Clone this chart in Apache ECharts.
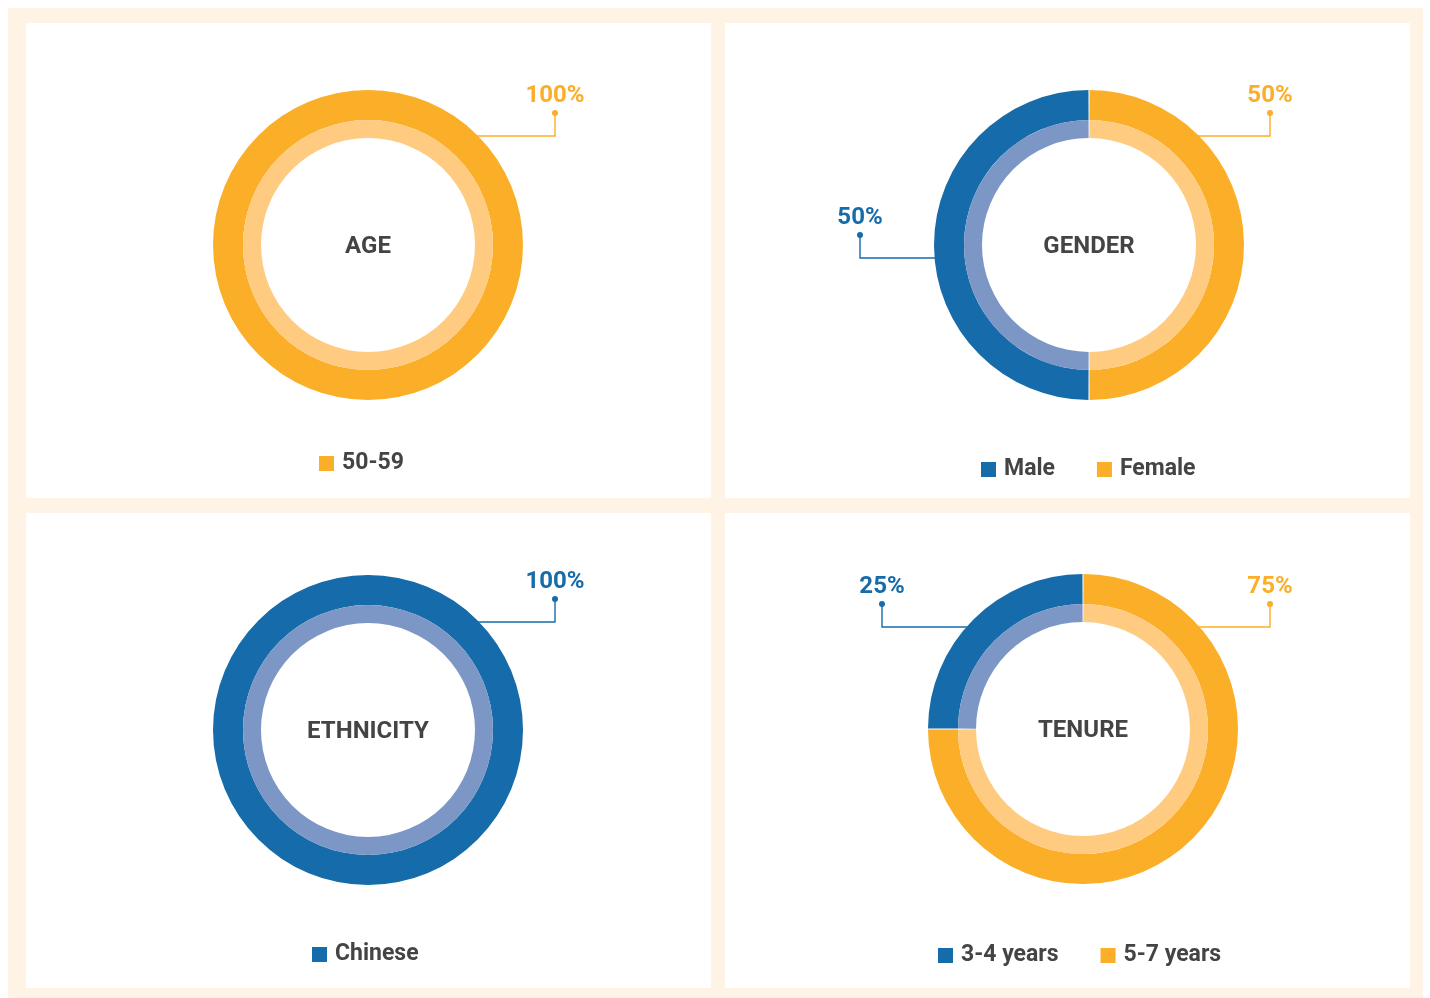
<!DOCTYPE html>
<html>
<head>
<meta charset="utf-8">
<title>Board composition</title>
<script src="https://cdn.jsdelivr.net/npm/echarts@6/dist/echarts.min.js"></script>
<style>
  html, body {
    margin: 0;
    padding: 0;
    background: #ffffff;
  }
  #frame {
    position: absolute;
    left: 8px;
    top: 8px;
    width: 1415px;
    height: 990px;
    background: #fef3e4;
  }
  .panel {
    position: absolute;
    width: 685px;
    height: 475px;
    background: #ffffff;
  }
</style>
</head>
<body>
<div id="frame"></div>
<div class="panel" id="age" style="left:26px;top:23px"></div>
<div class="panel" id="gender" style="left:725px;top:23px"></div>
<div class="panel" id="ethnicity" style="left:26px;top:513px"></div>
<div class="panel" id="tenure" style="left:725px;top:513px"></div>

<script>
  // values (percent)
  var ageCats = ['50-59'];
  var ageVals = [100];
  var genderCats = ['Male', 'Female'];
  var genderVals = [50, 50];
  var ethnicityCats = ['Chinese'];
  var ethnicityVals = [100];
  var tenureCats = ['3-4 years', '5-7 years'];
  var tenureVals = [25, 75];

  var ORANGE = '#fbae27';
  var ORANGE_LIGHT = '#fecb80';
  var BLUE = '#166baa';
  var BLUE_LIGHT = '#7c97c5';
  var TEXT = '#444444';
  var FONT = 'Roboto, "Liberation Sans", sans-serif';

  var R_OUT = 155, R_MID = 125, R_IN = 107;

  var panels = [
    {
      id: 'age', title: 'AGE', cats: ageCats, vals: ageVals,
      colors: [ORANGE], light: [ORANGE_LIGHT],
      center: [342, 222], legendLeft: 293, legendTop: 429,
      leaders: [{rise: -109, reach: 187}]
    },
    {
      id: 'gender', title: 'GENDER', cats: genderCats, vals: genderVals,
      colors: [BLUE, ORANGE], light: [BLUE_LIGHT, ORANGE_LIGHT],
      center: [364, 222], legendLeft: 256, legendTop: 435,
      leaders: [{rise: 13, reach: -229}, {rise: -109, reach: 181}]
    },
    {
      id: 'ethnicity', title: 'ETHNICITY', cats: ethnicityCats, vals: ethnicityVals,
      colors: [BLUE], light: [BLUE_LIGHT],
      center: [342, 217], legendLeft: 286, legendTop: 430,
      leaders: [{rise: -108, reach: 187}]
    },
    {
      id: 'tenure', title: 'TENURE', cats: tenureCats, vals: tenureVals,
      colors: [BLUE, ORANGE], light: [BLUE_LIGHT, ORANGE_LIGHT],
      center: [358, 216], legendLeft: 213, legendTop: 431,
      leaders: [{rise: -102, reach: -201}, {rise: -102, reach: 187}]
    }
  ];

  function drawPanel(p) {
    var myChart = echarts.init(document.getElementById(p.id));
    var cx = p.center[0], cy = p.center[1];
    var multi = p.cats.length > 1;

    var outerData = [], innerData = [], legendData = [];
    for (var i = 0; i < p.cats.length; i++) {
      outerData.push({
        name: p.cats[i], value: p.vals[i],
        itemStyle: {color: p.colors[i]},
        label: {color: p.colors[i], rich: {v: {color: p.colors[i]}, dot: {backgroundColor: p.colors[i]}}},
        labelLine: {lineStyle: {color: p.colors[i]}}
      });
      innerData.push({
        name: p.cats[i], value: p.vals[i],
        itemStyle: {color: p.light[i]}
      });
      legendData.push({name: p.cats[i], itemStyle: {color: p.colors[i]}});
    }

    myChart.setOption({
      animation: false,
      legend: {
        data: legendData,
        left: p.legendLeft,
        top: p.legendTop,
        padding: 0,
        icon: 'rect',
        itemWidth: 15,
        itemHeight: 15,
        itemGap: 42,
        selectedMode: false,
        textStyle: {
          fontFamily: FONT,
          fontWeight: 'bold',
          fontSize: 23,
          color: TEXT,
          padding: [0, 0, 0, 3]
        }
      },
      graphic: [{
        type: 'text',
        x: cx,
        y: cy + 2,
        style: {
          text: p.title,
          align: 'center',
          verticalAlign: 'middle',
          fontFamily: FONT,
          fontWeight: 'bold',
          fontSize: 24,
          fill: TEXT
        }
      }],
      series: [
        {
          type: 'pie',
          center: [cx, cy],
          radius: [R_MID, R_OUT],
          startAngle: 90,
          clockwise: false,
          padAngle: multi ? 0.4 : 0,
          silent: true,
          label: {
            show: true,
            position: 'outside',
            formatter: function (params) {
              return '{v|' + Math.round(params.percent) + '%}\n{dot| }';
            },
            rich: {
              v: {
                fontFamily: FONT,
                fontWeight: 'bold',
                fontSize: 24,
                lineHeight: 28,
                align: 'center'
              },
              dot: {
                width: 6,
                height: 6,
                lineHeight: 6,
                borderRadius: 3,
                align: 'center'
              }
            }
          },
          labelLine: {
            show: true,
            lineStyle: {width: 1.4}
          },
          labelLayout: function (params) {
            var L = p.leaders[params.dataIndex];
            var y0 = cy + L.rise;
            var dir = L.reach < 0 ? -1 : 1;
            var edge = cx + dir * (Math.sqrt(R_OUT * R_OUT - L.rise * L.rise) - 1);
            var ex = cx + L.reach;
            var dotY = y0 - 23;
            return {
              x: ex,
              y: dotY + 3,
              align: 'center',
              verticalAlign: 'bottom',
              labelLinePoints: [[edge, y0], [ex, y0], [ex, dotY]]
            };
          },
          data: outerData
        },
        {
          type: 'pie',
          center: [cx, cy],
          radius: [R_IN, R_MID],
          startAngle: 90,
          clockwise: false,
          padAngle: multi ? 0.4 : 0,
          silent: true,
          label: {show: false},
          labelLine: {show: false},
          data: innerData
        }
      ]
    });
  }

  for (var k = 0; k < panels.length; k++) {
    drawPanel(panels[k]);
  }
</script>
</body>
</html>
